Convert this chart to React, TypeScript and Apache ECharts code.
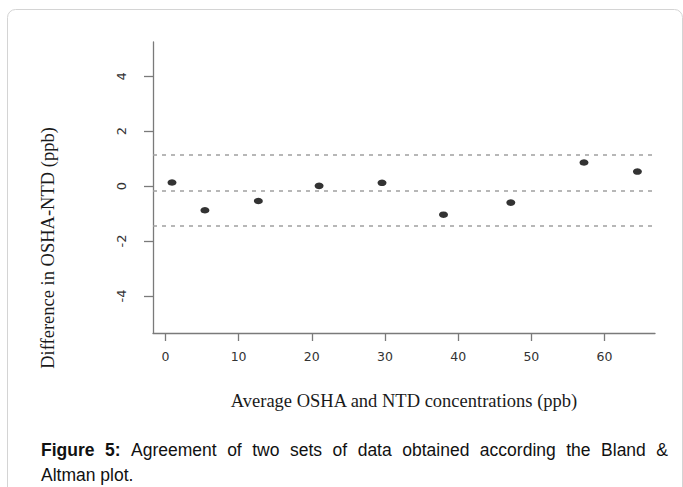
import React, { useEffect, useRef } from "react";
import * as echarts from "echarts";

// Data (Bland & Altman plot)
const averages = [0.9, 5.4, 12.7, 21.0, 29.6, 38.0, 47.2, 57.2, 64.5];
const differences = [0.13, -0.88, -0.54, 0.01, 0.12, -1.04, -0.6, 0.86, 0.53];
const limitLines = [1.15, -0.17, -1.43];
const xTicks = [0, 10, 20, 30, 40, 50, 60];
const yTicks = [-4, -2, 0, 2, 4];

const xTitle = "Average OSHA and NTD concentrations (ppb)";
const yTitle = "Difference in OSHA-NTD (ppb)";
const captionLine1Bold = ["Figure", "5:"];
const captionLine1 = ["Agreement", "of", "two", "sets", "of", "data", "obtained", "according", "the", "Bland", "&"];
const captionLine2 = "Altman plot.";

function measure(text: string, font: string): number {
  const c = document.createElement("canvas");
  const ctx = c.getContext("2d");
  if (!ctx) return text.length * 8;
  ctx.font = font;
  return ctx.measureText(text).width;
}

export default function App() {
  const ref = useRef<HTMLDivElement>(null);

  useEffect(() => {
    if (!ref.current) return;
    const chart = echarts.init(ref.current, null, { renderer: "svg" });

    const capSize = 17.5;
    const boldFont = `bold ${capSize}px "Liberation Sans"`;
    const regFont = `${capSize}px "Liberation Sans"`;
    const words = [
      ...captionLine1Bold.map((w) => ({ w, bold: true })),
      ...captionLine1.map((w) => ({ w, bold: false })),
    ];
    const widths = words.map((o) => measure(o.w, o.bold ? boldFont : regFont));
    const left = 41;
    const right = 668;
    const total = widths.reduce((a, b) => a + b, 0);
    const gap = (right - left - total) / (words.length - 1);
    let cx = left;
    const captionEls: any[] = [];
    words.forEach((o, i) => {
      captionEls.push({
        type: "text",
        x: cx,
        y: 450,
        style: {
          text: o.w,
          font: o.bold ? boldFont : regFont,
          fill: "#111",
          align: "left",
          verticalAlign: "middle",
        },
      });
      cx += widths[i] + gap;
    });
    captionEls.push({
      type: "text",
      x: left,
      y: 475,
      style: {
        text: captionLine2,
        font: regFont,
        fill: "#111",
        align: "left",
        verticalAlign: "middle",
      },
    });

    const axisColor = "#7a7a7a";

    chart.setOption({
      animation: false,
      backgroundColor: "#fff",
      grid: { left: 153, right: 28, top: 42, bottom: 154, containLabel: false },
      xAxis: {
        type: "value",
        min: -1.7,
        max: 66.9,
        splitLine: { show: false },
        axisLine: { show: true, onZero: false, lineStyle: { color: axisColor, width: 1.3 } },
        axisTick: { show: true, customValues: xTicks, length: 8, lineStyle: { color: axisColor, width: 1.3 } },
        axisLabel: {
          customValues: xTicks,
          margin: 17,
          fontSize: 12.5,
          fontFamily: "DejaVu Sans",
          color: "#333",
        },
        name: xTitle,
        nameLocation: "middle",
        nameGap: 58,
        nameTextStyle: { fontFamily: "Liberation Serif", fontSize: 18.5, color: "#1a1a1a" },
      },
      yAxis: {
        type: "value",
        min: -5.35,
        max: 5.25,
        splitLine: { show: false },
        axisLine: { show: true, onZero: false, lineStyle: { color: axisColor, width: 1.3 } },
        axisTick: { show: true, customValues: yTicks, length: 9, lineStyle: { color: axisColor, width: 1.3 } },
        axisLabel: {
          customValues: yTicks,
          rotate: 90,
          margin: 25,
          fontSize: 13,
          fontFamily: "DejaVu Sans",
          color: "#333",
        },
      },
      graphic: [
        {
          type: "rect",
          shape: { x: 7.5, y: 9.5, width: 675, height: 520, r: 8 },
          style: { fill: "none", stroke: "#d4d4d4", lineWidth: 1 },
          silent: true,
        },
        {
          type: "text",
          x: 48,
          y: 248,
          rotation: Math.PI / 2,
          style: {
            text: yTitle,
            font: '18.5px "Liberation Serif"',
            fill: "#1a1a1a",
            align: "center",
            verticalAlign: "middle",
          },
        },
        ...captionEls,
      ],
      series: [
        {
          type: "scatter",
          data: averages.map((a, i) => [a, differences[i]]),
          symbol: "circle",
          symbolSize: [9, 6.5],
          itemStyle: { color: "#000" },
          markLine: {
            silent: true,
            symbol: "none",
            label: { show: false },
            lineStyle: { color: "#a0a0a0", width: 1.6, type: [4, 5] },
            data: limitLines.map((v) => ({ yAxis: v })),
          },
        },
      ],
    });

    return () => chart.dispose();
  }, []);

  return (
    <div
      ref={ref}
      style={{ position: "fixed", left: 0, top: 0, width: 683, height: 487 }}
    />
  );
}
